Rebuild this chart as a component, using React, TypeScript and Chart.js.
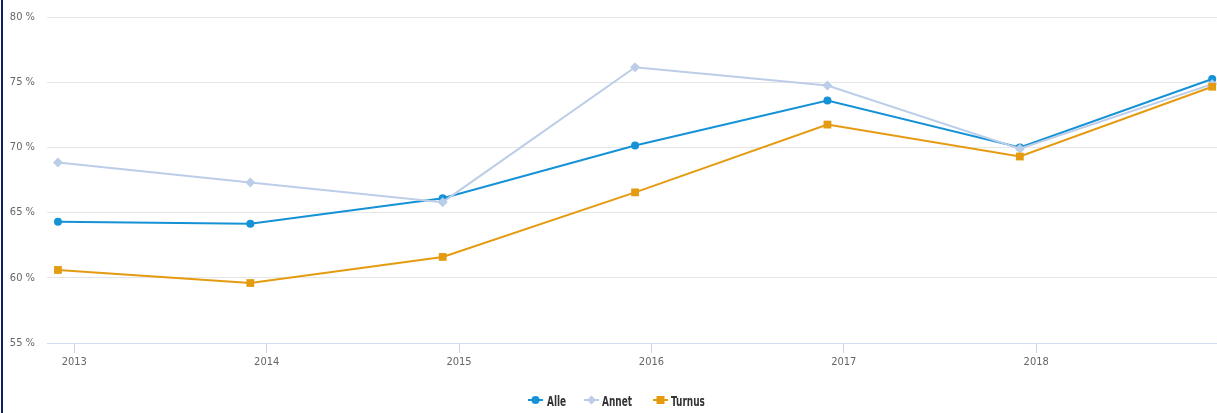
import React, { useEffect, useRef } from "react";
import { Chart, registerables } from "chart.js";

Chart.register(...registerables);

// Point dates (decimal years; each point is dated early December of the preceding year)
const pointDates = [2012.915, 2013.915, 2014.915, 2015.915, 2016.915, 2017.915, 2018.915];
const tickYears = [2013, 2014, 2015, 2016, 2017, 2018];
const yTicks = [55, 60, 65, 70, 75, 80];

const alle = [64.3, 64.15, 66.1, 70.15, 73.6, 70.0, 75.25];
const annet = [68.85, 67.3, 65.8, 76.15, 74.75, 69.9, 74.85];
const turnus = [60.6, 59.6, 61.6, 66.55, 71.75, 69.3, 74.65];

const seriesNames = ["Alle", "Annet", "Turnus"];
const colors = ["#1592d6", "#bccde8", "#e49b0f"];
const markers = ["circle", "rectRot", "rect"];
const markerRadius = [4, 5, 5.5];

// legend item left edges (icon, text)
const legendIconX = [528, 584, 653];
const legendTextX = [547, 602, 671];

const FONT = "'DejaVu Sans Condensed', 'DejaVu Sans', sans-serif";

function LegendIcon({ color, marker }: { color: string; marker: string }) {
  let shape: React.ReactNode;
  if (marker === "circle") shape = <circle cx={7.5} cy={6} r={4} fill={color} />;
  else if (marker === "rect") shape = <rect x={3.5} y={2} width={8} height={8} fill={color} />;
  else shape = <polygon points="7.5,1.5 12,6 7.5,10.5 3,6" fill={color} />;
  return (
    <svg width={15} height={12} style={{ display: "block" }}>
      <line x1={0} y1={6} x2={15} y2={6} stroke={color} strokeWidth={2} />
      {shape}
    </svg>
  );
}

export default function App() {
  const ref = useRef<HTMLCanvasElement | null>(null);

  useEffect(() => {
    document.body.style.margin = "0";
    const data = [alle, annet, turnus];
    const chart = new Chart(ref.current as HTMLCanvasElement, {
      type: "line",
      data: {
        datasets: seriesNames.map((name, i) => ({
          label: name,
          data: pointDates.map((x, j) => ({ x, y: data[i][j] })),
          borderColor: colors[i],
          backgroundColor: colors[i],
          borderWidth: 2,
          pointStyle: markers[i] as any,
          pointRadius: markerRadius[i],
          pointBorderWidth: 0,
          tension: 0,
          clip: false as any,
          order: 3 - i,
        })),
      },
      options: {
        animation: false,
        responsive: false,
        maintainAspectRatio: false,
        layout: { autoPadding: false, padding: { top: 17, right: 0, left: 0, bottom: 40 } },
        plugins: { legend: { display: false }, tooltip: { enabled: false } },
        scales: {
          x: {
            type: "linear",
            min: 2012.858,
            max: 2018.94,
            afterBuildTicks: (axis: any) => {
              axis.ticks = tickYears.map((v) => ({ value: v }));
            },
            afterFit: (axis: any) => {
              axis.height = 30;
              axis.paddingLeft = 0;
              axis.paddingRight = 0;
            },
            grid: {
              drawOnChartArea: false,
              drawTicks: true,
              tickLength: 10,
              color: "#ccd6eb",
            },
            border: { color: "#d5dbee", width: 1 },
            ticks: {
              padding: 3,
              color: "#666666",
              font: { family: FONT, size: 11 },
              callback: (v: any) => String(v),
              maxRotation: 0,
            },
          },
          y: {
            min: 55,
            max: 80,
            afterBuildTicks: (axis: any) => {
              axis.ticks = yTicks.map((v) => ({ value: v }));
            },
            afterFit: (axis: any) => {
              axis.width = 47;
              axis.paddingTop = 0;
              axis.paddingBottom = 0;
            },
            grid: { color: "#e6e6e6", drawTicks: false, lineWidth: 1 },
            border: { display: false },
            ticks: {
              padding: 12,
              color: "#666666",
              font: { family: FONT, size: 11 },
              callback: (v: any) => v + " %",
            },
          },
        },
      },
    });
    return () => chart.destroy();
  }, []);

  return (
    <div style={{ position: "relative", width: 1217, height: 413, background: "#ffffff", overflow: "hidden" }}>
      <canvas ref={ref} width={1217} height={413} style={{ display: "block" }} />
      <div
        style={{
          position: "absolute",
          left: 1,
          top: 0,
          width: 2,
          height: 413,
          background: "#0b2160",
        }}
      />
      {seriesNames.map((name, i) => (
        <React.Fragment key={name}>
          <div style={{ position: "absolute", left: legendIconX[i], top: 394 }}>
            <LegendIcon color={colors[i]} marker={markers[i]} />
          </div>
          <div
            style={{
              position: "absolute",
              left: legendTextX[i],
              top: 393,
              fontFamily: "'DejaVu Sans', sans-serif",
              fontStretch: "condensed",
              fontWeight: "bold",
              fontSize: 14,
              lineHeight: "16px",
              color: "#333333",
              whiteSpace: "nowrap",
              transform: "scaleX(0.71)",
              transformOrigin: "0 0",
            }}
          >
            {name}
          </div>
        </React.Fragment>
      ))}
    </div>
  );
}
